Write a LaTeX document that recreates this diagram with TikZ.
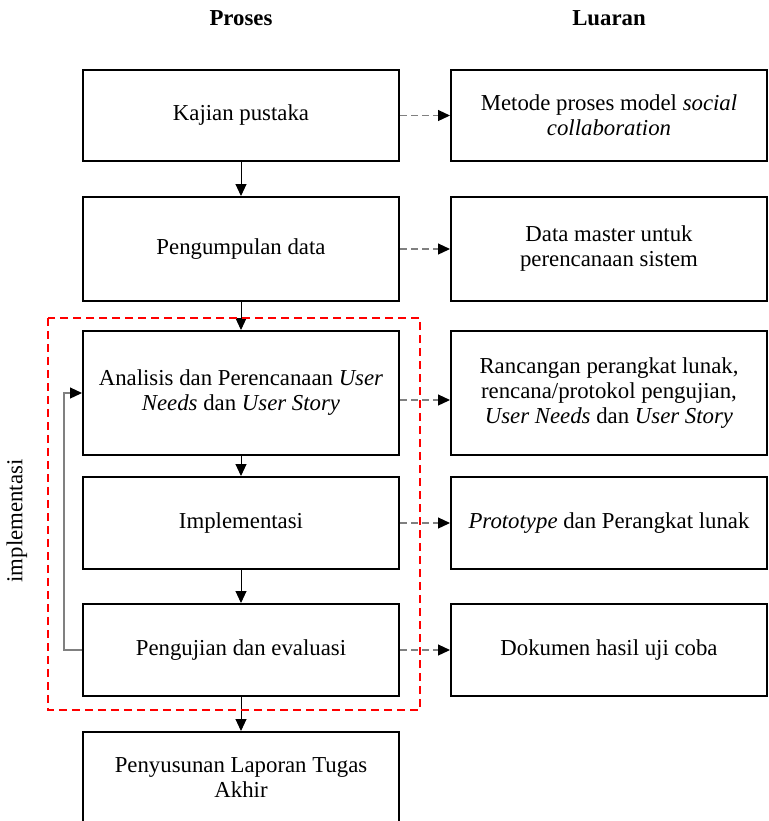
\documentclass[tikz,border=0pt]{standalone}
\usepackage{fontspec}
\setmainfont{Liberation Serif}
\usetikzlibrary{arrows.meta,positioning}
\tikzset{
    proses-box/.style = {draw=black, line width=1pt, rectangle, minimum width=158pt, align=center, inner sep=2pt, font=\fontsize{11.4}{12.5}\selectfont},
    luaran-box/.style = {proses-box},
    judul/.style = {font=\fontsize{11.4}{12.5}\selectfont\bfseries},
    alur-arrow/.style = {draw=black, line width=0.5pt, -{Triangle[length=6pt,width=5.5pt]}},
    luaran-arrow/.style = {draw=gray, line width=0.6pt, dash pattern=on 3.5pt off 2pt, -{Triangle[length=6pt,width=5.5pt,color=black]}},
    balik-arrow/.style = {draw=gray, line width=0.6pt, -{Triangle[length=6pt,width=5.5pt,color=black]}},
    batas-box/.style = {draw=red, line width=1pt, dash pattern=on 4pt off 2.5pt},
}

\begin{document}
\begin{tikzpicture}[x=0.5pt, y=-0.5pt]
\useasboundingbox (0,0) rectangle (768,821);
\node[judul] (proses) at (241,18) {Proses};
\node[judul] (luaran) at (609,18) {Luaran};

\node[proses-box, minimum height=45.5pt] (kajian) at (241,115.5) {Kajian pustaka};
\node[proses-box, minimum height=52pt, below=17pt of kajian] (pengumpulan) {Pengumpulan data};
\node[proses-box, minimum height=62pt, below=14pt of pengumpulan] (analisis) {Analisis dan Perencanaan \textit{User}\\\textit{Needs} dan \textit{User Story}};
\node[proses-box, minimum height=46pt, below=10pt of analisis] (implementasi) {Implementasi};
\node[proses-box, minimum height=46pt, below=16.5pt of implementasi] (pengujian) {Pengujian dan evaluasi};
\node[proses-box, minimum height=46pt, below=17pt of pengujian] (penyusunan) {Penyusunan Laporan Tugas\\Akhir};

\node[luaran-box, minimum height=45.5pt, right=25pt of kajian] (out-kajian) {Metode proses model \textit{social}\\\textit{collaboration}};
\node[luaran-box, minimum height=52pt, right=25pt of pengumpulan] (out-pengumpulan) {Data master untuk\\perencanaan sistem};
\node[luaran-box, minimum height=62pt, right=25pt of analisis] (out-analisis) {Rancangan perangkat lunak,\\rencana/protokol pengujian,\\\textit{User Needs} dan \textit{User Story}};
\node[luaran-box, minimum height=46pt, right=25pt of implementasi] (out-implementasi) {\textit{Prototype} dan Perangkat lunak};
\node[luaran-box, minimum height=46pt, right=25pt of pengujian] (out-pengujian) {Dokumen hasil uji coba};

\draw[alur-arrow] (kajian) -- (pengumpulan);
\draw[alur-arrow] (pengumpulan) -- (analisis);
\draw[alur-arrow] (analisis) -- (implementasi);
\draw[alur-arrow] (implementasi) -- (pengujian);
\draw[alur-arrow] (pengujian) -- (penyusunan);

\draw[batas-box] (48,318) rectangle (420,710);
\node[rotate=90, font=\fontsize{11.4}{12.5}\selectfont] (label-implementasi) at (17,521) {implementasi};

\draw[luaran-arrow] (kajian) -- (out-kajian);
\draw[luaran-arrow] (pengumpulan) -- (out-pengumpulan);
\draw[luaran-arrow] ([yshift=-3.5pt]analisis.east) -- ([yshift=-3.5pt]out-analisis.west);
\draw[luaran-arrow] (implementasi) -- (out-implementasi);
\draw[luaran-arrow] (pengujian) -- (out-pengujian);

\draw[balik-arrow] (pengujian.west) -- ++(-9pt,0) |- (analisis.west);
\end{tikzpicture}
\end{document}
